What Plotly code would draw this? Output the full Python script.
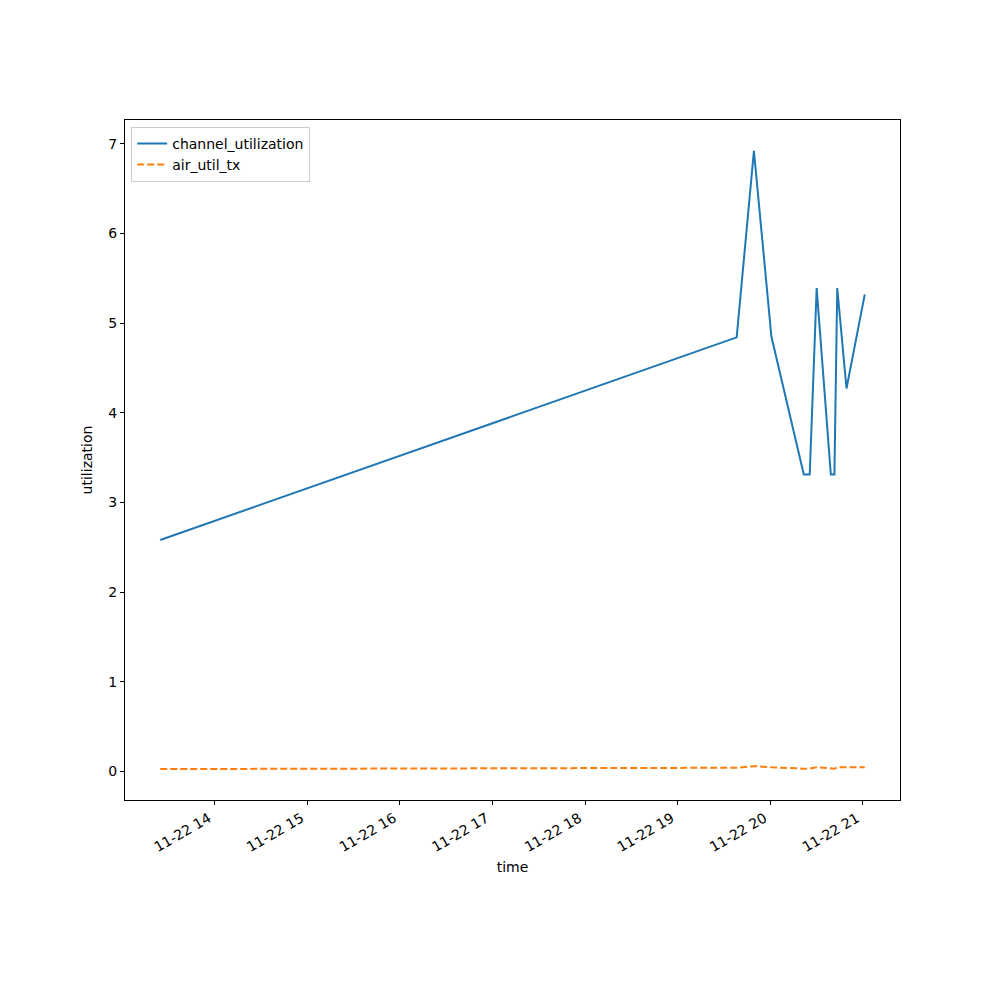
import pandas as pd
import plotly.graph_objects as go

times = [
    "2023-11-22 13:24:40", "2023-11-22 19:38:10", "2023-11-22 19:49:20",
    "2023-11-22 20:00:40", "2023-11-22 20:21:40", "2023-11-22 20:25:30",
    "2023-11-22 20:30:00", "2023-11-22 20:39:10", "2023-11-22 20:41:30",
    "2023-11-22 20:43:20", "2023-11-22 20:49:20", "2023-11-22 21:01:10",
]
channel_utilization = [2.58, 4.84, 6.92, 4.85, 3.31, 3.31, 5.39, 3.31, 3.31, 5.39, 4.27, 5.32]
air_util_tx = [0.025, 0.040, 0.058, 0.045, 0.030, 0.030, 0.046, 0.034, 0.030, 0.045, 0.045, 0.045]

t = pd.to_datetime(times)
span = t.max() - t.min()
xr = [t.min() - span * 0.05, t.max() + span * 0.05]
allv = channel_utilization + air_util_tx
vspan = max(allv) - min(allv)
yr = [min(allv) - vspan * 0.05, max(allv) + vspan * 0.05]

FONT = "DejaVu Sans"

fig = go.Figure()
fig.add_trace(go.Scatter(x=t, y=channel_utilization, mode="lines", name="channel_utilization",
                         line=dict(color="#1f77b4", width=2)))
fig.add_trace(go.Scatter(x=t, y=air_util_tx, mode="lines", name="air_util_tx",
                         line=dict(color="#ff7f0e", width=2, dash="7px,3px")))

fig.update_layout(
    width=1000, height=1000,
    margin=dict(l=117, r=108, t=112, b=208),
    paper_bgcolor="white", plot_bgcolor="white",
    font=dict(family=FONT, size=14, color="black"),
    showlegend=True,
    legend=dict(x=0.008, y=0.99, xanchor="left", yanchor="top",
                bgcolor="rgba(255,255,255,0.8)", bordercolor="#cccccc", borderwidth=1,
                font=dict(family=FONT, size=14), tracegroupgap=0),
    xaxis=dict(
        range=xr, showgrid=False, zeroline=False,
        showline=True, linecolor="black", linewidth=1, mirror=True,
        ticks="outside", ticklen=4, tickcolor="black",
        tickformat="%m-%d %H", dtick=3600000, tickangle=-30,
        ticklabelshift=-6,
        title=dict(text="time", standoff=8, font=dict(family=FONT, size=14)),
    ),
    yaxis=dict(
        range=yr, showgrid=False, zeroline=False,
        showline=True, linecolor="black", linewidth=1, mirror=True,
        ticks="outside", ticklen=4, tickcolor="black",
        tickmode="array", tickvals=[0, 1, 2, 3, 4, 5, 6, 7],
        title=dict(text="utilization", standoff=12, font=dict(family=FONT, size=14)),
    ),
)

fig.write_html("out.html")
